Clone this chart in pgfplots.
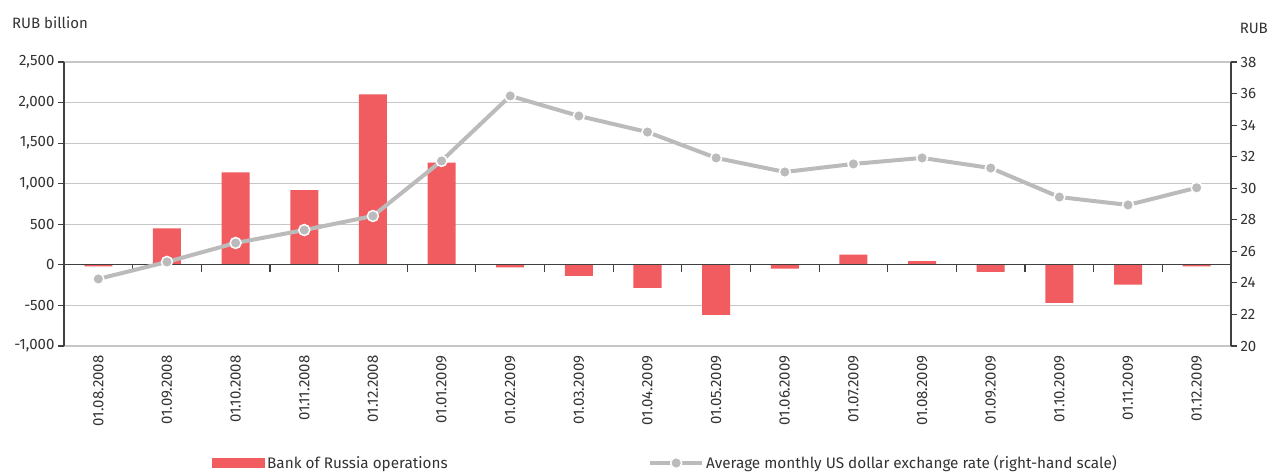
\documentclass[border=0pt]{standalone}
\usepackage{fontspec}
\setmainfont{Fira Sans}
\usepackage{pgfplots}
\pgfplotsset{compat=1.18}
\definecolor{barred}{HTML}{F05C5F}
\definecolor{linegray}{HTML}{BBBBBB}
\definecolor{gridgray}{HTML}{C6C6C6}
\definecolor{axisdark}{HTML}{404040}
\definecolor{txt}{HTML}{333333}
\pgfplotsset{
  base/.style={
    scale only axis, width=1167pt, height=284pt,
    at={(64pt,129pt)}, anchor=south west,
    xmin=-0.5, xmax=16.5,
    /pgf/number format/assume math mode=true,
    /pgf/number format/1000 sep={,},
    tick label style={font=\fontsize{15}{17}\selectfont, text=txt},
    tick align=outside,
    major tick length=6pt,
    every tick/.style={axisdark, line width=1.2pt},
    legend style={draw=none, fill=none, inner sep=0pt, anchor=west,
      font=\fontsize{15.3}{17}\selectfont, text=txt},
  }
}
\begin{document}
\begin{tikzpicture}
% bars, left axis
\begin{axis}[base,
  ymin=-1000, ymax=2500, ytick distance=500,
  axis y line*=left, axis x line*=bottom,
  y axis line style={axisdark, line width=1.2pt},
  x axis line style={draw=none},
  ymajorgrids, grid style={gridgray, line width=1.2pt},
  xtick={0,...,16},
  xticklabels={01.08.2008,01.09.2008,01.10.2008,01.11.2008,01.12.2008,01.01.2009,01.02.2009,01.03.2009,01.04.2009,01.05.2009,01.06.2009,01.07.2009,01.08.2009,01.09.2009,01.10.2009,01.11.2009,01.12.2009},
  x tick label style={rotate=90, anchor=east},
  xtick style={draw=none},
  legend style={at={(0.1268,-0.412)}},
  legend image code/.code={\fill[#1] (0pt,-5pt) rectangle (53pt,5pt);},
]
\addplot[ybar, bar width=28pt, fill=barred, draw=none] coordinates {
(0,-20) (1,450) (2,1140) (3,920) (4,2100) (5,1260) (6,-30) (7,-135) (8,-285)
(9,-615) (10,-45) (11,125) (12,45) (13,-85) (14,-470) (15,-245) (16,-20)};
\addlegendentry{Bank of Russia operations}
\end{axis}
% zero line with ticks (axis box starting at value 0)
\begin{axis}[base,
  at={(64pt,210.143pt)}, height=202.857pt,
  ymin=0, ymax=2500, hide y axis,
  axis x line*=bottom,
  x axis line style={axisdark, line width=1.2pt},
  xtick={0.5,1.5,...,15.5}, xticklabels={},
  major tick length=7pt,
]
\end{axis}
% line, right axis
\begin{axis}[base,
  ymin=20, ymax=38, ytick distance=2,
  axis y line*=right, hide x axis,
  y axis line style={axisdark, line width=1.2pt},
  legend style={at={(0.5004,-0.412)}},
  legend image code/.code={\draw[#1, mark=none] (0pt,0pt) -- (52pt,0pt);
    \draw[#1, only marks] plot coordinates {(26pt,0pt)};},
]
\addplot[linegray, line width=4pt, mark=*, mark size=5.5pt,
  mark options={fill=linegray, draw=white, line width=1.5pt}] coordinates {
(0,24.25) (1,25.33) (2,26.53) (3,27.35) (4,28.24) (5,31.73) (6,35.85) (7,34.58)
(8,33.56) (9,31.92) (10,31.03) (11,31.54) (12,31.92) (13,31.28) (14,29.44)
(15,28.94) (16,30.03)};
\addlegendentry{Average monthly US dollar exchange rate (right-hand scale)}
\end{axis}
\node[anchor=west, text=txt, font=\fontsize{15}{17}\selectfont, inner sep=0pt] at (12pt,452pt) {RUB billion};
\node[anchor=east, text=txt, font=\fontsize{15}{17}\selectfont, inner sep=0pt] at (1268pt,447pt) {RUB};
\pgfresetboundingbox
\useasboundingbox (0,0) rectangle (1269pt,475pt);
\end{tikzpicture}
\end{document}
